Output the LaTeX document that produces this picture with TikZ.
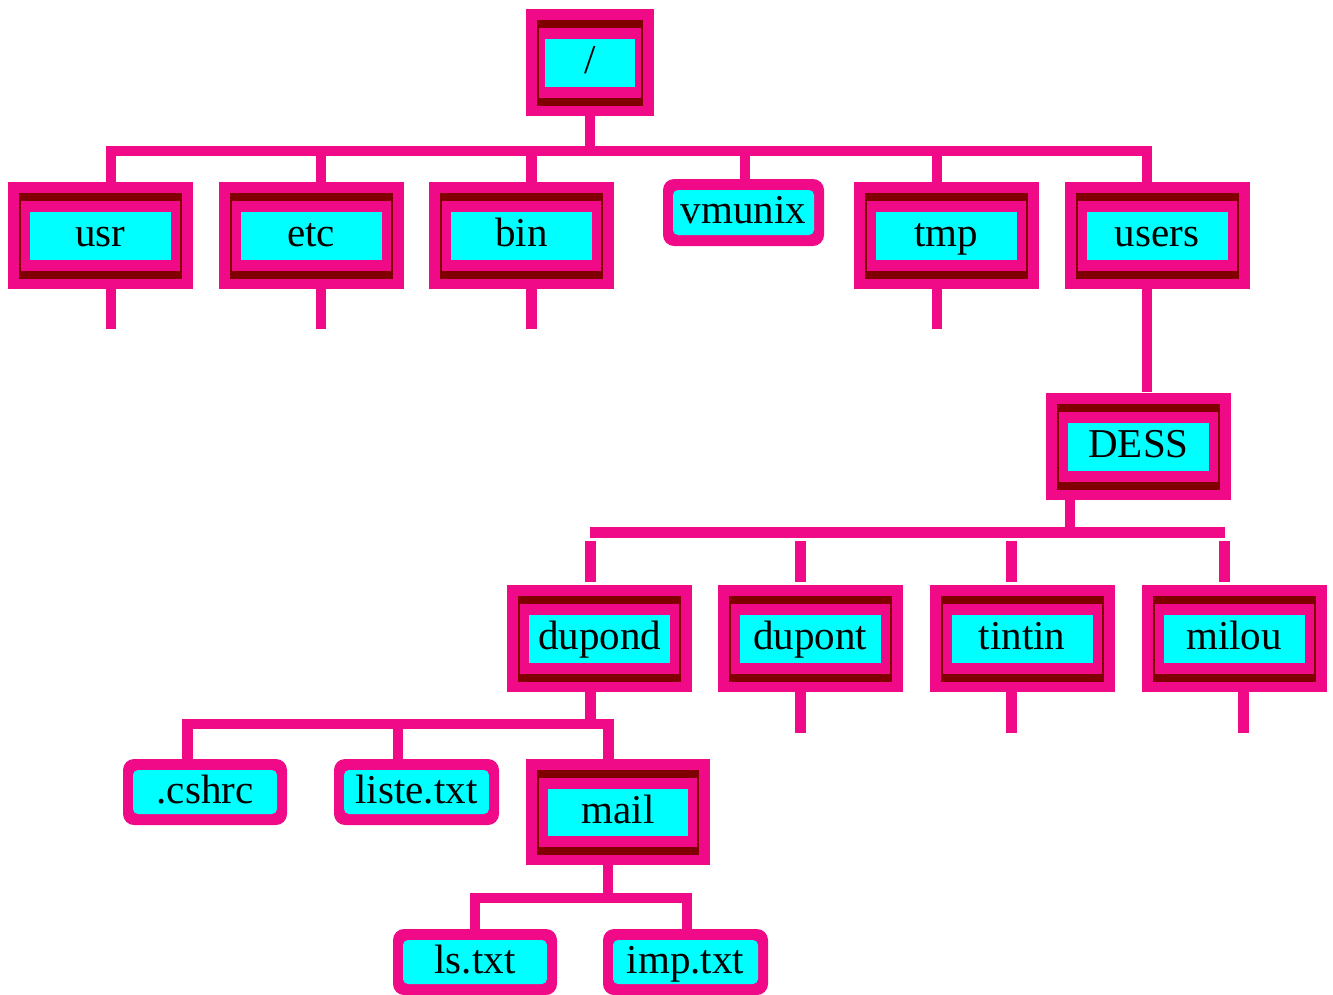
\documentclass[tikz,border=0pt]{standalone}
\usepackage{fontspec}
\setmainfont{Liberation Serif}
\usetikzlibrary{calc}
\definecolor{mag}{RGB}{240,10,135}
\definecolor{darkred}{RGB}{128,0,0}
\definecolor{aqua}{RGB}{0,255,255}
\tikzset{
  lbl/.style={font=\fontsize{41}{49}\selectfont, text=black, text height=31pt, text depth=9pt, inner sep=0pt},
  % directory: pink frame, dark red bars, cyan label panel
  dirbox/.style={lbl, rectangle, fill=mag, minimum width=185, minimum height=107,
    path picture={
      \fill[darkred] ($(path picture bounding box.north west)+(11,11)$) rectangle ($(path picture bounding box.south east)+(-11,-10)$);
      \fill[mag] ($(path picture bounding box.north west)+(13,19)$) rectangle ($(path picture bounding box.south east)+(-13,-18)$);
      \fill[aqua] ($(path picture bounding box.north west)+(#1,30)$) rectangle ($(path picture bounding box.south east)+(-#1,-29)$);
    }},
  dirbox/.default=22,
  % plain file: rounded pink frame around a cyan panel
  filebox/.style={lbl, rectangle, rounded corners=11pt, fill=mag, minimum width=164, minimum height=66,
    path picture={
      \fill[aqua, rounded corners=5pt] ($(path picture bounding box.north west)+(10,11)$) rectangle ($(path picture bounding box.south east)+(-10,-11)$);
    }},
  conn/.style={draw=mag, line width=10.5pt, line cap=butt, line join=miter}
}
\begin{document}
\begin{tikzpicture}[x=1pt, y=-1pt]
\useasboundingbox (0,0) rectangle (1333,994);

% ---- nodes ----
\node[dirbox=19, minimum width=128] (root) at (590,62.5) {/};

\node[dirbox] (usr)   at (100.5,235.5) {usr};
\node[dirbox] (etc)   at (311,235.5)   {etc};
\node[dirbox] (bin)   at (521.5,235.5) {bin};
\node[filebox, minimum width=161, minimum height=67] (vmunix) at (743.5,212.5) {vmunix};
\node[dirbox] (tmp)   at (946,235.5)   {tmp};
\node[dirbox] (users) at (1157,235.5)  {users};

\node[dirbox] (DESS) at (1138.5,446) {DESS};

\node[dirbox] (dupond) at (599.5,638.5) {dupond};
\node[dirbox] (dupont) at (810,638.5)   {dupont};
\node[dirbox] (tintin) at (1022,638.5)  {tintin};
\node[dirbox] (milou)  at (1234,638.5)  {milou};

\node[filebox] (cshrc) at (205,792) {.cshrc};
\node[filebox, minimum width=165] (liste) at (416.5,792) {liste.txt};
\node[dirbox, minimum width=184, minimum height=106] (mail) at (618,812) {mail};

\node[filebox] (ls) at (475,962) {ls.txt};
\node[filebox, minimum width=165] (imp) at (685.5,962) {imp.txt};

% ---- connectors: / ----
\coordinate (b1L) at (111,151);
\coordinate (b1R) at (1147,151);
\draw[conn] (root.south) -- (root.south |- b1L);
\draw[conn] ([xshift=10.5pt]usr.north) -- (b1L) -- (b1R) -- ([xshift=-10pt]users.north);
\draw[conn] ([xshift=10pt]etc.north) -- ++(0,-31);
\draw[conn] ([xshift=10pt]bin.north) -- ++(0,-31);
\draw[conn] ([xshift=1.5pt]vmunix.north) -- ++(0,-28);
\draw[conn] ([xshift=-9pt]tmp.north) -- ++(0,-31);

% open stubs below collapsed directories
\draw[conn] ([xshift=10.5pt]usr.south) -- ++(0,40);
\draw[conn] ([xshift=10pt]etc.south) -- ++(0,40);
\draw[conn] ([xshift=10pt]bin.south) -- ++(0,40);
\draw[conn] ([xshift=-9pt]tmp.south) -- ++(0,40);

% ---- users -> DESS ----
\coordinate (cu) at ([xshift=-10pt]users.south);
\draw[conn] (cu) -- (cu |- DESS.north);

% ---- DESS ----
\coordinate (b2L) at (590,532.5);
\coordinate (b2R) at (1225,532.5);
\draw[conn] ([xshift=-68.5pt]DESS.south) -- ++(0,33.5);
\draw[conn] (b2L) -- (b2R);
\draw[conn] ([xshift=-9pt,yshift=3pt]dupond.north) -- ++(0,-41);
\draw[conn] ([xshift=-9.5pt,yshift=3pt]dupont.north) -- ++(0,-41);
\draw[conn] ([xshift=-10.5pt,yshift=3pt]tintin.north) -- ++(0,-41);
\draw[conn] ([xshift=-9.5pt,yshift=3pt]milou.north) -- ++(0,-41);

\draw[conn] ([xshift=-9.5pt]dupont.south) -- ++(0,41);
\draw[conn] ([xshift=-10.5pt]tintin.south) -- ++(0,41);
\draw[conn] ([xshift=9.5pt]milou.south) -- ++(0,41);

% ---- dupond ----
\coordinate (b3L) at (187.5,724);
\coordinate (b3R) at (608.5,724);
\draw[conn] ([xshift=-9pt]dupond.south) -- ++(0,33);
\draw[conn] ([xshift=-17.5pt]cshrc.north) -- (b3L) -- (b3R) -- ([xshift=-9.5pt]mail.north);
\draw[conn] ([xshift=-18.5pt]liste.north) -- ++(0,-35);

% ---- mail ----
\coordinate (b4L) at (475,898);
\coordinate (b4R) at (687,898);
\draw[conn] ([xshift=-10pt]mail.south) -- ++(0,33);
\draw[conn] (ls.north) -- (b4L) -- (b4R) -- ([xshift=1.5pt]imp.north);
\end{tikzpicture}
\end{document}
